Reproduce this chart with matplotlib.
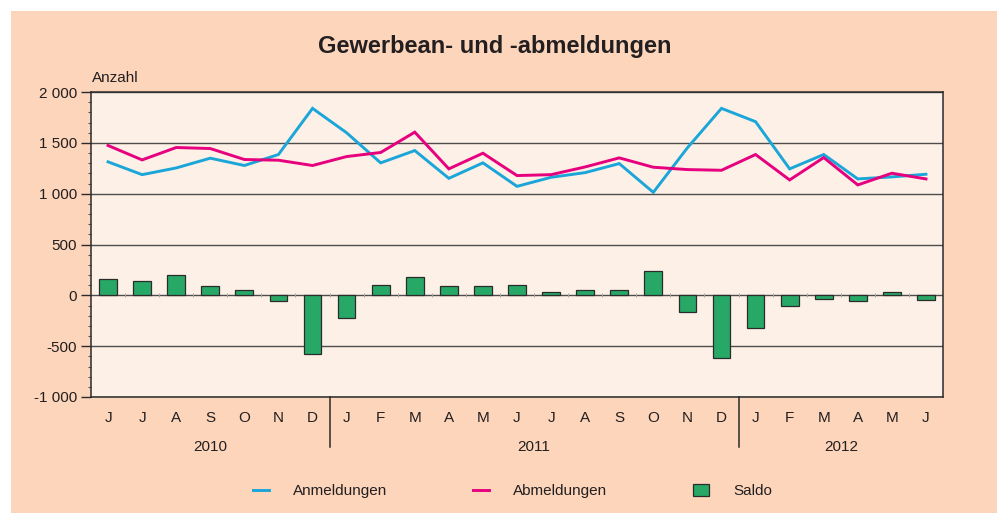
import matplotlib
matplotlib.use('Agg')
import matplotlib.pyplot as plt
from matplotlib.patches import Rectangle, Patch
from matplotlib.lines import Line2D
import matplotlib.transforms as mtransforms

plt.rcParams['font.family'] = ['Liberation Sans', 'DejaVu Sans']

# Monatswerte Juni 2010 bis Juni 2012
months = ['J', 'J', 'A', 'S', 'O', 'N', 'D',
          'J', 'F', 'M', 'A', 'M', 'J', 'J', 'A', 'S', 'O', 'N', 'D',
          'J', 'F', 'M', 'A', 'M', 'J']
years = ['2010', '2011', '2012']
year_months = [7, 12, 6]

anmeldungen = [1313, 1187, 1253, 1349, 1277, 1385, 1839,
               1599, 1303, 1424, 1151, 1303, 1072, 1161, 1207, 1296, 1013, 1451, 1839,
               1708, 1244, 1385, 1145, 1165, 1191]
abmeldungen = [1474, 1332, 1454, 1444, 1336, 1329, 1277,
               1365, 1405, 1605, 1244, 1398, 1178, 1187, 1263, 1352, 1260, 1237, 1230,
               1385, 1135, 1355, 1086, 1201, 1145]
saldo = [158, 144, 200, 92, 49, -59, -573,
         -227, 99, 178, 95, 95, 102, 33, 52, 52, 240, -165, -612,
         -323, -109, -33, -59, 33, -49]

y_ticks = [-1000, -500, 0, 500, 1000, 1500, 2000]
y_ticklabels = ['-1 000', '-500', '0', '500', '1 000', '1 500', '2 000']

text_col = '#231f20'
peach = '#fdd5bb'
plot_bg = '#fdf0e6'
blue = '#1ba6d9'
pink = '#e6007e'
green = '#27a866'

fig = plt.figure(figsize=(9.97, 5.13), dpi=100)
fig.patch.set_facecolor('white')
fig.patches.append(Rectangle((11 / 997, 0), 1, 1 - 11 / 513, transform=fig.transFigure,
                             facecolor=peach, edgecolor='none', zorder=-10))

ax = fig.add_axes([91 / 997, 1 - 397 / 513, (943 - 91) / 997, (397 - 92) / 513])
ax.set_facecolor(plot_bg)

x = list(range(len(months)))

# Gitterlinien
for v in y_ticks:
    ax.axhline(v, color='#4d4d4d', lw=1.0, zorder=1)

ax.bar(x, saldo, width=0.52, color=green, edgecolor='#2b2b2b', linewidth=0.9, zorder=3)
ax.plot(x, anmeldungen, color=blue, lw=2.1, zorder=4, solid_joinstyle='miter')
ax.plot(x, abmeldungen, color=pink, lw=2.1, zorder=4, solid_joinstyle='miter')

# kleine Striche auf der Nulllinie zwischen den Monaten
bounds = [i + 0.5 for i in x[:-1]]
ax.plot(bounds, [0] * len(bounds), linestyle='none', marker='|', markersize=3,
        color='#b0a8a0', markeredgewidth=0.7, zorder=2)

ax.set_xlim(-0.5, len(months) - 0.5)
ax.set_ylim(-1000, 2000)
ax.set_yticks(y_ticks)
ax.set_yticklabels(y_ticklabels)
ax.set_yticks(range(-1000, 2001, 100), minor=True)
ax.tick_params(axis='y', which='major', length=7, width=1, color='#2b2b2b',
               labelsize=11, labelcolor=text_col, pad=3)
ax.tick_params(axis='y', which='minor', length=2.5, width=0.8, color='#555555')
ax.set_xticks(x)
ax.set_xticklabels(months)
ax.tick_params(axis='x', length=0, labelsize=11, labelcolor=text_col, pad=10)

for s in ax.spines.values():
    s.set_color('#2b2b2b')
    s.set_linewidth(1.1)

# Jahresbeschriftung und Trennstriche
trans = mtransforms.blended_transform_factory(ax.transData, ax.transAxes)
start = 0
for i, (yr, n) in enumerate(zip(years, year_months)):
    centre = start + (n - 1) / 2
    ax.text(centre, -0.165, yr, transform=trans, ha='center', va='center',
            fontsize=11, color=text_col)
    if i < len(years) - 1:
        sep = start + n - 0.5
        ax.plot([sep, sep], [0, -0.165], transform=trans, color='#2b2b2b',
                lw=1.1, clip_on=False)
    start += n

fig.text(0.4965, 1 - 47 / 513, 'Gewerbean- und -abmeldungen', ha='center', va='center',
         fontsize=17, fontweight='bold', color=text_col)
fig.text(92 / 997, 1 - 78 / 513, 'Anzahl', ha='left', va='center', fontsize=11, color=text_col)

handles = [Line2D([], [], color=blue, lw=2.1),
           Line2D([], [], color=pink, lw=2.1),
           Patch(facecolor=green, edgecolor='#2b2b2b', linewidth=0.9)]
fig.legend(handles, ['Anmeldungen', 'Abmeldungen', 'Saldo'], loc='center',
           bbox_to_anchor=(0.514, 1 - 491 / 513), ncol=3, frameon=False,
           fontsize=11, handlelength=1.05, handleheight=0.85, handletextpad=1.6,
           columnspacing=5.6, labelcolor=text_col)

fig.savefig('out.png', dpi=100, facecolor=fig.get_facecolor())
